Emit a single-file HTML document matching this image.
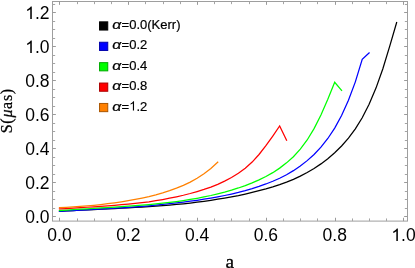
<!DOCTYPE html>
<html><head><meta charset="utf-8"><title>plot</title>
<style>
html,body{margin:0;padding:0;background:#fff;}
body{width:415px;height:268px;overflow:hidden;font-family:"Liberation Sans",sans-serif;}
svg{display:block;will-change:transform;}
.t{font-family:"Liberation Sans",sans-serif;font-size:17.5px;fill:#000;}
.l{font-family:"Liberation Sans",sans-serif;font-size:13px;fill:#000;}
.s{font-family:"Liberation Serif",serif;fill:#000;}
</style></head><body>
<svg width="415" height="268" viewBox="0 0 415 268">
<rect width="415" height="268" fill="#fff"/>
<g fill="none" stroke-width="1.25" stroke-linejoin="miter" stroke-miterlimit="10" stroke-linecap="square">
<path d="M59.50,211.22 L66.38,210.88 L73.26,210.54 L80.14,210.20 L87.02,209.86 L93.90,209.52 L100.78,209.19 L107.66,208.85 L114.54,208.52 L121.42,208.17 L128.30,207.81 L135.18,207.43 L142.06,207.03 L148.94,206.60 L155.82,206.14 L162.70,205.64 L169.58,205.07 L176.46,204.45 L183.34,203.76 L190.22,203.01 L197.10,202.18 L203.98,201.27 L210.86,200.28 L217.74,199.21 L224.62,198.05 L231.50,196.84 L238.38,195.53 L245.26,194.04 L252.14,192.43 L259.02,190.72 L265.90,188.87 L272.78,186.84 L279.66,184.62 L286.54,182.16 L293.42,179.34 L300.30,176.16 L307.18,172.54 L314.06,168.46 L320.94,163.89 L327.82,158.68 L334.70,152.76 L341.58,145.98 L348.46,138.12 L355.34,128.84 L362.22,117.74 L369.10,104.29 L375.98,88.09 L382.86,68.71 L389.74,46.13 L396.62,22.60" stroke="#000000"/>
<path d="M59.50,211.36 L66.38,210.98 L73.26,210.61 L80.14,210.23 L87.02,209.84 L93.90,209.45 L100.78,209.06 L107.66,208.64 L114.54,208.22 L121.42,207.79 L128.30,207.34 L135.18,206.87 L142.06,206.37 L148.94,205.84 L155.82,205.18 L162.70,204.45 L169.58,203.67 L176.46,202.87 L183.34,202.09 L190.22,201.23 L197.10,200.28 L203.98,199.24 L210.86,198.10 L217.74,196.86 L224.62,195.50 L231.50,194.03 L238.38,192.42 L245.26,190.60 L252.14,188.59 L259.02,186.39 L265.90,183.96 L272.78,181.26 L279.66,178.22 L286.54,174.78 L293.42,170.66 L300.30,165.91 L307.18,160.64 L314.06,154.46 L320.94,147.17 L327.82,138.49 L334.70,128.09 L341.58,115.52 L348.46,100.30 L355.34,81.85 L362.22,59.40 L369.10,53.00" stroke="#0000ff"/>
<path d="M59.50,210.47 L66.38,210.05 L73.26,209.62 L80.14,209.20 L87.02,208.78 L93.90,208.36 L100.78,207.93 L107.66,207.51 L114.54,207.08 L121.42,206.63 L128.30,206.17 L135.18,205.67 L142.06,205.15 L148.94,204.57 L155.82,203.92 L162.70,203.20 L169.58,202.40 L176.46,201.51 L183.34,200.54 L190.22,199.47 L197.10,198.28 L203.98,196.96 L210.86,195.51 L217.74,193.90 L224.62,192.13 L231.50,190.15 L238.38,187.97 L245.26,185.56 L252.14,182.88 L259.02,179.88 L265.90,176.51 L272.78,172.66 L279.66,168.12 L286.54,162.86 L293.42,156.69 L300.30,149.19 L307.18,139.99 L314.06,128.65 L320.94,114.97 L327.82,99.27 L334.70,82.30 L341.58,90.40" stroke="#00ff00"/>
<path d="M59.50,208.95 L66.38,208.54 L73.26,208.12 L80.14,207.70 L87.02,207.25 L93.90,206.79 L100.78,206.31 L107.66,205.81 L114.54,205.29 L121.42,204.71 L128.30,204.09 L135.18,203.40 L142.06,202.63 L148.94,201.77 L155.82,200.72 L162.70,199.54 L169.58,198.23 L176.46,196.80 L183.34,195.24 L190.22,193.51 L197.10,191.56 L203.98,189.45 L210.86,187.12 L217.74,184.32 L224.62,181.12 L231.50,177.47 L238.38,173.28 L245.26,168.24 L252.14,162.07 L259.02,154.49 L265.90,145.73 L272.78,136.07 L279.66,126.00 L286.54,140.10" stroke="#ff0000"/>
<path d="M59.50,207.71 L66.38,207.38 L73.26,206.97 L80.14,206.49 L87.02,205.93 L93.90,205.28 L100.78,204.54 L107.66,203.73 L114.54,202.81 L121.42,201.80 L128.30,200.67 L135.18,199.43 L142.06,198.07 L148.94,196.56 L155.82,194.81 L162.70,192.85 L169.58,190.66 L176.46,188.18 L183.34,185.34 L190.22,182.09 L197.10,178.19 L203.98,173.68 L210.86,168.47 L217.74,162.20" stroke="#ff8000"/>
</g>
<rect x="52.5" y="1.5" width="355.0" height="219.6" fill="none" stroke="#9e9e9e" stroke-width="1"/>
<path d="M59.50,221.10L59.50,217.75 M59.50,1.50L59.50,4.85 M128.50,221.10L128.50,217.75 M128.50,1.50L128.50,4.85 M197.50,221.10L197.50,217.75 M197.50,1.50L197.50,4.85 M266.50,221.10L266.50,217.75 M266.50,1.50L266.50,4.85 M335.50,221.10L335.50,217.75 M335.50,1.50L335.50,4.85 M403.50,221.10L403.50,217.75 M403.50,1.50L403.50,4.85 M52.50,216.50L55.85,216.50 M407.50,216.50L404.15,216.50 M52.50,182.50L55.85,182.50 M407.50,182.50L404.15,182.50 M52.50,148.50L55.85,148.50 M407.50,148.50L404.15,148.50 M52.50,114.50L55.85,114.50 M407.50,114.50L404.15,114.50 M52.50,80.50L55.85,80.50 M407.50,80.50L404.15,80.50 M52.50,46.50L55.85,46.50 M407.50,46.50L404.15,46.50 M52.50,12.50L55.85,12.50 M407.50,12.50L404.15,12.50" stroke="#9a9a9a" stroke-width="1" fill="none"/>
<path d="M77.50,221.10L77.50,218.45 M77.50,1.50L77.50,4.15 M94.50,221.10L94.50,218.45 M94.50,1.50L94.50,4.15 M111.50,221.10L111.50,218.45 M111.50,1.50L111.50,4.15 M145.50,221.10L145.50,218.45 M145.50,1.50L145.50,4.15 M163.50,221.10L163.50,218.45 M163.50,1.50L163.50,4.15 M180.50,221.10L180.50,218.45 M180.50,1.50L180.50,4.15 M214.50,221.10L214.50,218.45 M214.50,1.50L214.50,4.15 M231.50,221.10L231.50,218.45 M231.50,1.50L231.50,4.15 M249.50,221.10L249.50,218.45 M249.50,1.50L249.50,4.15 M283.50,221.10L283.50,218.45 M283.50,1.50L283.50,4.15 M300.50,221.10L300.50,218.45 M300.50,1.50L300.50,4.15 M317.50,221.10L317.50,218.45 M317.50,1.50L317.50,4.15 M352.50,221.10L352.50,218.45 M352.50,1.50L352.50,4.15 M369.50,221.10L369.50,218.45 M369.50,1.50L369.50,4.15 M386.50,221.10L386.50,218.45 M386.50,1.50L386.50,4.15 M52.50,208.50L55.15,208.50 M407.50,208.50L404.85,208.50 M52.50,199.50L55.15,199.50 M407.50,199.50L404.85,199.50 M52.50,191.50L55.15,191.50 M407.50,191.50L404.85,191.50 M52.50,174.50L55.15,174.50 M407.50,174.50L404.85,174.50 M52.50,165.50L55.15,165.50 M407.50,165.50L404.85,165.50 M52.50,157.50L55.15,157.50 M407.50,157.50L404.85,157.50 M52.50,140.50L55.15,140.50 M407.50,140.50L404.85,140.50 M52.50,131.50L55.15,131.50 M407.50,131.50L404.85,131.50 M52.50,123.50L55.15,123.50 M407.50,123.50L404.85,123.50 M52.50,106.50L55.15,106.50 M407.50,106.50L404.85,106.50 M52.50,97.50L55.15,97.50 M407.50,97.50L404.85,97.50 M52.50,89.50L55.15,89.50 M407.50,89.50L404.85,89.50 M52.50,72.50L55.15,72.50 M407.50,72.50L404.85,72.50 M52.50,63.50L55.15,63.50 M407.50,63.50L404.85,63.50 M52.50,55.50L55.15,55.50 M407.50,55.50L404.85,55.50 M52.50,38.50L55.15,38.50 M407.50,38.50L404.85,38.50 M52.50,29.50L55.15,29.50 M407.50,29.50L404.85,29.50 M52.50,21.50L55.15,21.50 M407.50,21.50L404.85,21.50 M52.50,4.50L55.15,4.50 M407.50,4.50L404.85,4.50" stroke="#a4a4a4" stroke-width="1" fill="none"/>
<g class="t"><text x="47.34" y="241.00">0.0</text><text x="116.14" y="241.00">0.2</text><text x="184.94" y="241.00">0.4</text><text x="253.74" y="241.00">0.6</text><text x="322.54" y="241.00">0.8</text><path d="M763 0H583V1147Q518 1085 412.5 1023T223 930V1104Q374 1175 487 1276T647 1472H763Z" transform="translate(391.34,241.00) scale(0.008545,-0.008545)" fill="#000"/><text x="401.07" y="241.00">.0</text><text x="25.27" y="223.00">0.0</text><text x="25.27" y="189.00">0.2</text><text x="25.27" y="155.00">0.4</text><text x="25.27" y="121.00">0.6</text><text x="25.27" y="87.00">0.8</text><path d="M763 0H583V1147Q518 1085 412.5 1023T223 930V1104Q374 1175 487 1276T647 1472H763Z" transform="translate(25.27,53.00) scale(0.008545,-0.008545)" fill="#000"/><text x="35.00" y="53.00">.0</text><path d="M763 0H583V1147Q518 1085 412.5 1023T223 930V1104Q374 1175 487 1276T647 1472H763Z" transform="translate(25.27,19.00) scale(0.008545,-0.008545)" fill="#000"/><text x="35.00" y="19.00">.2</text></g>
<g class="l" stroke="#000" stroke-width="0.2"><rect x="99.55" y="21.85" width="8.2" height="8.2" fill="#000000" stroke="#000000" stroke-width="1"/><text transform="translate(112.3,29.00) scale(1.22,1)" font-style="italic">α</text><text x="121.6" y="29.00">=0.0(Kerr)</text><rect x="99.55" y="42.25" width="8.2" height="8.2" fill="#0000ff" stroke="#0000aa" stroke-width="1"/><text transform="translate(112.3,49.40) scale(1.22,1)" font-style="italic">α</text><text x="121.6" y="49.40">=0.2</text><rect x="99.55" y="62.65" width="8.2" height="8.2" fill="#00ff00" stroke="#00aa00" stroke-width="1"/><text transform="translate(112.3,69.80) scale(1.22,1)" font-style="italic">α</text><text x="121.6" y="69.80">=0.4</text><rect x="99.55" y="83.05" width="8.2" height="8.2" fill="#ff0000" stroke="#aa0000" stroke-width="1"/><text transform="translate(112.3,90.20) scale(1.22,1)" font-style="italic">α</text><text x="121.6" y="90.20">=0.8</text><rect x="99.55" y="103.45" width="8.2" height="8.2" fill="#ff8000" stroke="#aa5500" stroke-width="1"/><text transform="translate(112.3,110.60) scale(1.22,1)" font-style="italic">α</text><text x="121.6" y="110.60">=</text><path d="M763 0H583V1147Q518 1085 412.5 1023T223 930V1104Q374 1175 487 1276T647 1472H763Z" transform="translate(129.19,110.60) scale(0.006348,-0.006348)" fill="#000"/><text x="136.42" y="110.60">.2</text></g>
<text class="s" font-size="16" letter-spacing="0.7" stroke="#000" stroke-width="0.25" text-anchor="middle" transform="translate(12.3,110.7) rotate(-90)">S(<tspan font-style="italic">μ</tspan>as)</text>
<text class="s" font-size="19.3" x="229.8" y="267.8" text-anchor="middle" stroke="#000" stroke-width="0.3">a</text>
</svg>
</body></html>
